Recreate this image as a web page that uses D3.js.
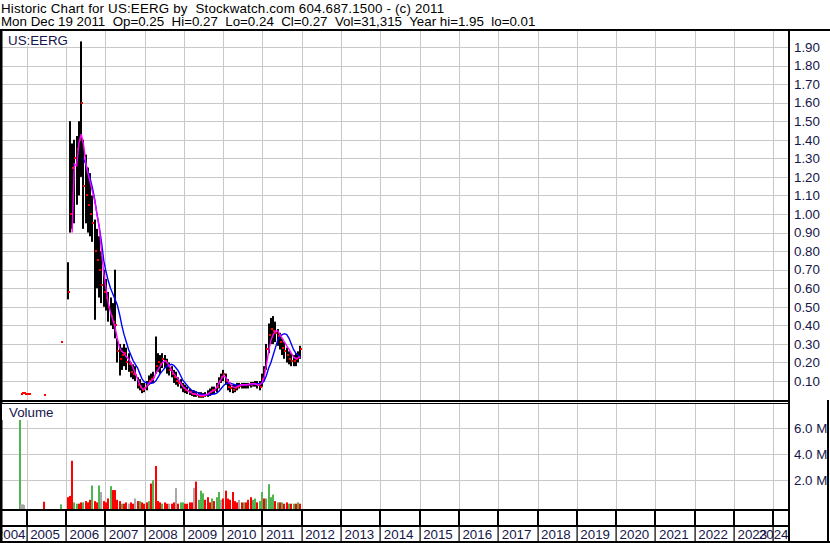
<!DOCTYPE html>
<html><head><meta charset="utf-8">
<script src="https://cdn.jsdelivr.net/npm/d3@7"></script>
<style>
html,body{margin:0;padding:0;background:#fff;}
svg{display:block;font-family:"Liberation Sans",Arial,sans-serif;}
</style></head><body>
<svg id="chart" width="830" height="543"></svg>
<script>
// ---------------- DATA ----------------
const headerLine1 = "Historic Chart for US:EERG by  Stockwatch.com 604.687.1500 - (c) 2011";
const headerLine2 = "Mon Dec 19 2011  Op=0.25  Hi=0.27  Lo=0.24  Cl=0.27  Vol=31,315  Year hi=1.95  lo=0.01";
const symbolLabel = "US:EERG";
const volumeLabel = "Volume";

const yearTicks = [2004,2005,2006,2007,2008,2009,2010,2011,2012,2013,2014,2015,2016,2017,2018,2019,2020,2021,2022,2023,2024];
const priceTicks = [0.10,0.20,0.30,0.40,0.50,0.60,0.70,0.80,0.90,1.00,1.10,1.20,1.30,1.40,1.50,1.60,1.70,1.80,1.90];
const volumeTicks = [2,4,6]; // millions

// sparse early trades (before 2006)
const earlyDates = ["2004-11-05","2004-11-20","2004-12-05","2004-12-20","2005-01-05","2005-01-20","2005-06-13","2005-11-14"];
const earlyClose = [0.03,0.035,0.035,0.03,0.03,0.03,0.025,0.31];
const earlyVolDates = ["2004-10-30","2004-11-12","2004-11-26","2004-12-10","2005-06-13","2005-11-14"];
const earlyVol = [7.0,0.15,0.15,0.1,0.35,0.15];
const earlyVolDir = ["g","n","n","n","r","g"];

// main series: one bar every 3 weeks starting 2006-01-16
const firstBarDate = "2006-01-16";
const barStepDays = 21;
const barHigh = [
 0.74,1.50,1.38,1.40,1.42,1.50,1.93,1.40,1.32,1.25,
 1.22,1.10,0.97,0.92,0.88,0.80,0.70,0.65,0.58,0.55,
 0.52,0.70,0.33,0.30,0.28,0.30,0.28,0.25,0.20,0.19,
 0.18,0.12,0.11,0.09,0.09,0.10,0.13,0.14,0.15,0.34,
 0.25,0.24,0.25,0.24,0.22,0.20,0.18,0.16,0.15,0.12,
 0.11,0.09,0.08,0.07,0.06,0.05,0.05,0.045,0.04,0.04,
 0.035,0.04,0.05,0.06,0.07,0.07,0.09,0.12,0.14,0.16,
 0.14,0.11,0.09,0.08,0.08,0.09,0.09,0.09,0.09,0.09,
 0.09,0.095,0.095,0.10,0.10,0.10,0.14,0.18,0.30,0.41,
 0.44,0.45,0.42,0.38,0.36,0.33,0.31,0.28,0.26,0.25,
 0.24,0.25,0.26,0.29];
const barLow = [
 0.54,0.90,0.92,0.95,1.05,1.10,1.20,0.92,0.95,0.90,
 0.88,0.85,0.43,0.60,0.55,0.52,0.50,0.48,0.42,0.40,
 0.38,0.33,0.20,0.13,0.16,0.18,0.16,0.15,0.12,0.11,
 0.10,0.06,0.05,0.035,0.04,0.05,0.08,0.09,0.09,0.14,
 0.15,0.14,0.17,0.17,0.14,0.13,0.12,0.09,0.08,0.07,
 0.06,0.04,0.035,0.03,0.025,0.02,0.015,0.015,0.01,0.01,
 0.01,0.015,0.015,0.02,0.03,0.03,0.04,0.06,0.09,0.10,
 0.08,0.05,0.04,0.035,0.04,0.05,0.06,0.06,0.06,0.06,
 0.06,0.065,0.07,0.07,0.06,0.05,0.07,0.10,0.16,0.25,
 0.30,0.30,0.31,0.29,0.27,0.24,0.22,0.20,0.19,0.18,
 0.18,0.18,0.20,0.22];
const barClose = [
 0.58,1.00,1.25,1.30,1.35,1.40,1.60,1.15,1.10,1.05,
 1.00,0.95,0.80,0.75,0.70,0.62,0.58,0.55,0.50,0.45,
 0.42,0.40,0.26,0.22,0.24,0.25,0.20,0.19,0.15,0.14,
 0.13,0.08,0.07,0.05,0.06,0.08,0.10,0.11,0.12,0.18,
 0.20,0.19,0.22,0.21,0.18,0.16,0.14,0.12,0.10,0.09,
 0.08,0.06,0.05,0.045,0.04,0.03,0.03,0.025,0.02,0.02,
 0.02,0.025,0.03,0.04,0.05,0.05,0.07,0.10,0.12,0.14,
 0.10,0.07,0.06,0.05,0.06,0.07,0.075,0.08,0.08,0.08,
 0.08,0.08,0.085,0.085,0.08,0.07,0.11,0.16,0.27,0.35,
 0.38,0.37,0.36,0.34,0.31,0.28,0.26,0.24,0.22,0.21,
 0.21,0.22,0.23,0.27];
const maFast = [
 null,null,0.90,1.27,1.26,1.38,1.43,1.38,1.28,1.22,
 1.17,1.12,1.07,1.00,0.93,0.80,0.68,0.60,0.52,0.47,
 0.43,0.39,0.33,0.28,0.26,0.25,0.23,0.22,0.20,0.17,
 0.14,0.11,0.08,0.06,0.055,0.07,0.09,0.10,0.11,0.14,
 0.16,0.18,0.20,0.21,0.20,0.18,0.16,0.14,0.125,0.11,
 0.09,0.07,0.06,0.05,0.04,0.035,0.03,0.028,0.025,0.022,
 0.022,0.025,0.03,0.038,0.045,0.05,0.065,0.09,0.11,0.13,
 0.12,0.10,0.085,0.07,0.065,0.07,0.075,0.08,0.08,0.08,
 0.082,0.085,0.085,0.085,0.08,0.078,0.09,0.12,0.19,0.26,
 0.32,0.35,0.37,0.37,0.35,0.33,0.31,0.29,0.27,0.25,
 0.23,0.22,0.225,0.23];
const maSlow = [
 null,null,null,null,null,null,null,1.30,1.27,1.23,
 1.19,1.14,1.08,1.00,0.93,0.85,0.75,0.69,0.64,0.60,
 0.57,0.54,0.51,0.46,0.40,0.35,0.31,0.27,0.24,0.21,
 0.19,0.17,0.14,0.11,0.095,0.09,0.085,0.088,0.09,0.10,
 0.12,0.14,0.155,0.17,0.18,0.185,0.19,0.185,0.17,0.155,
 0.13,0.105,0.09,0.075,0.06,0.05,0.045,0.04,0.035,0.03,
 0.027,0.025,0.025,0.026,0.028,0.03,0.035,0.045,0.06,0.075,
 0.085,0.09,0.088,0.085,0.08,0.078,0.078,0.08,0.08,0.08,
 0.08,0.08,0.082,0.085,0.085,0.085,0.088,0.10,0.13,0.17,
 0.20,0.24,0.28,0.32,0.34,0.35,0.355,0.35,0.33,0.30,
 0.27,0.25,0.24,0.23];
const barVolume = [ // millions
 0.7,0.8,3.5,0.3,0.2,0.2,0.3,0.3,0.4,0.3,
 0.5,1.6,0.4,0.3,1.6,1.1,0.4,0.3,0.6,1.55,
 1.25,1.25,0.5,0.4,0.2,0.2,0.3,0.2,0.3,0.2,
 0.6,0.4,0.4,0.3,0.2,0.3,0.4,1.75,2.0,3.1,
 0.4,0.3,0.2,0.3,0.2,0.2,0.2,0.3,1.4,0.2,
 0.3,0.3,0.2,0.2,0.3,0.3,1.4,1.9,0.5,1.2,
 1.0,0.5,0.7,0.3,0.6,0.4,0.7,1.1,0.5,0.6,
 1.2,0.6,0.5,1.1,0.4,0.3,0.5,0.3,0.3,0.3,
 0.5,0.7,0.5,0.6,0.3,0.4,1.1,0.6,0.6,1.7,
 0.7,0.9,0.4,0.3,0.3,0.3,0.2,0.3,0.2,0.2,
 0.2,0.2,0.3,0.2];
const barVolumeDir = [
 "r","r","r","g","g","r","r","g","r","r",
 "r","g","r","r","g","n","r","r","r","g",
 "r","r","r","r","g","r","r","n","r","r",
 "n","r","g","r","r","r","g","r","g","r",
 "r","r","g","r","r","n","r","r","n","r",
 "g","g","r","r","r","r","n","r","g","g",
 "g","r","r","r","g","r","g","g","n","r",
 "r","r","r","r","r","r","n","r","g","r",
 "r","r","g","g","r","g","g","r","g","g",
 "g","g","r","g","r","g","r","r","g","r",
 "g","r","g","r"];

// ---------------- LAYOUT ----------------
const svg = d3.select("#chart");
const parse = d3.timeParse("%Y-%m-%d");
const FONT = "13.33px";
const LABEL_COLOR = "#16164a";
const GRID = "#c8c8c8";
const volColor = {r:"#ff0000", g:"#50b450", n:"#a8a8a8"};

const x = d3.scaleTime().domain([new Date(2005,0,1), new Date(2024,0,1)]).range([26.7, 773.3]);
const yP = d3.scaleLinear().domain([0,2]).range([399.6, 28.4]);
const yV = d3.scaleLinear().domain([0,6]).range([506.3, 428.3]);
const px = v => Math.round(v) + 0.5;

svg.append("rect").attr("width",830).attr("height",543).attr("fill","#fff");

const start = parse(firstBarDate);
const bars = barHigh.map((h,i)=>({
  date: d3.timeDay.offset(start, i*barStepDays),
  hi: h, lo: barLow[i], cl: barClose[i], fast: maFast[i], slow: maSlow[i],
  vol: barVolume[i], dir: barVolumeDir[i]
}));
const early = earlyDates.map((d,i)=>({date: parse(d), cl: earlyClose[i]}));
const earlyV = earlyVolDates.map((d,i)=>({date: parse(d), vol: earlyVol[i], dir: earlyVolDir[i]}));
const yearDates = yearTicks.map(y => new Date(y,0,1));

const defs = svg.append("defs");
defs.append("clipPath").attr("id","cpPrice").append("rect").attr("x",2).attr("y",31).attr("width",786).attr("height",369);
defs.append("clipPath").attr("id","cpVol").append("rect").attr("x",2).attr("y",404).attr("width",786).attr("height",105);

// ---- grid ----
const grid = svg.append("g");
grid.selectAll(".hp").data(priceTicks).join("line")
  .attr("x1",2).attr("x2",788).attr("y1",d=>px(yP(d))).attr("y2",d=>px(yP(d)))
  .attr("stroke",GRID).attr("stroke-width",1);
grid.selectAll(".hv").data(volumeTicks).join("line").attr("class","hv")
  .attr("x1",2).attr("x2",788).attr("y1",d=>px(yV(d))).attr("y2",d=>px(yV(d)))
  .attr("stroke",GRID).attr("stroke-width",1);
grid.selectAll(".vp").data(yearDates.filter(d=>x(d)>2)).join("line").attr("class","vp")
  .attr("x1",d=>px(x(d))).attr("x2",d=>px(x(d))).attr("y1",31).attr("y2",400)
  .attr("stroke",GRID);
grid.selectAll(".vv").data(yearDates.filter(d=>x(d)>2)).join("line").attr("class","vv")
  .attr("x1",d=>px(x(d))).attr("x2",d=>px(x(d))).attr("y1",404).attr("y2",509)
  .attr("stroke",GRID);

// ---- volume bars ----
const gv = svg.append("g").attr("clip-path","url(#cpVol)");
gv.selectAll("rect.v").data(earlyV.concat(bars)).join("rect").attr("class","v")
  .attr("x",d=>Math.round(x(d.date))-1).attr("width",2)
  .attr("y",d=>yV(d.vol)).attr("height",d=>509-yV(d.vol))
  .attr("fill",d=>volColor[d.dir]);

// ---- price bars ----
const gp = svg.append("g").attr("clip-path","url(#cpPrice)");
gp.selectAll("rect.b").data(bars).join("rect").attr("class","b")
  .attr("x",d=>Math.round(x(d.date))-1).attr("width",2)
  .attr("y",d=>yP(d.hi)).attr("height",d=>Math.max(1,yP(d.lo)-yP(d.hi)))
  .attr("fill","#000");
gp.selectAll("rect.c").data(bars.concat(early)).join("rect").attr("class","c")
  .attr("x",d=>Math.round(x(d.date))).attr("width",2)
  .attr("y",d=>Math.round(yP(d.cl))-1).attr("height",2)
  .attr("fill","#ff0000");

const lineSlow = d3.line().defined(d=>d.slow!=null).x(d=>x(d.date)).y(d=>yP(d.slow));
const lineFast = d3.line().defined(d=>d.fast!=null).x(d=>x(d.date)).y(d=>yP(d.fast));
gp.append("path").datum(bars).attr("d",lineSlow).attr("fill","none").attr("stroke","#0000ff").attr("stroke-width",1.4);
gp.append("path").datum(bars).attr("d",lineFast).attr("fill","none").attr("stroke","#ff00ff").attr("stroke-width",1.4);

// ---- header ----
svg.append("text").attr("x",1).attr("y",12.5).style("white-space","pre").style("letter-spacing","0.18px")
  .attr("font-size",FONT).attr("fill","#000").text(headerLine1);
svg.append("text").attr("x",1).attr("y",26).style("white-space","pre").attr("font-size",FONT).attr("fill","#000").text(headerLine2);

// ---- panel labels with white boxes ----
function boxedLabel(tx, ty, txt, boxTop, boxBottom){
  const r = svg.append("rect").attr("fill","#fff");
  const t = svg.append("text").attr("x",tx).attr("y",ty).attr("font-size",FONT).attr("fill",LABEL_COLOR).text(txt);
  const w = t.node().getComputedTextLength();
  r.attr("x",2).attr("y",boxTop).attr("width",tx+w+2-2).attr("height",boxBottom-boxTop);
}
boxedLabel(8, 45, symbolLabel, 31, 46);

// ---- axes ----
const axP = svg.append("g").attr("transform","translate(794,0)")
  .call(d3.axisRight(yP).tickValues(priceTicks).tickFormat(d3.format(".2f")).tickSize(0).tickPadding(0));
const axV = svg.append("g").attr("transform","translate(794,0)")
  .call(d3.axisRight(yV).tickValues(volumeTicks).tickFormat(d=>d.toFixed(1)+" M").tickSize(0).tickPadding(0));
[axP,axV].forEach(a=>{
  a.select(".domain").remove();
  a.selectAll("text").attr("font-size",FONT).attr("font-family","Liberation Sans, Arial, sans-serif").attr("fill",LABEL_COLOR);
});

// strip separators (year boundaries)
const strip = svg.append("g");
strip.selectAll(".s1").data(yearDates).join("rect").attr("class","s1")
  .attr("x",d=>Math.round(x(d))-1).attr("width",2).attr("y",511).attr("height",15).attr("fill","#000");
strip.selectAll(".s2").data(yearDates).join("rect").attr("class","s2")
  .attr("x",d=>Math.round(x(d))-0.5).attr("width",1.2).attr("y",527).attr("height",14).attr("fill","#000");

const axX = svg.append("g").attr("transform","translate(0,539)")
  .call(d3.axisBottom(x).tickValues(yearDates).tickFormat(d3.timeFormat("%Y")).tickSize(0).tickPadding(0));
axX.select(".domain").remove();
axX.selectAll("text").attr("font-size",FONT).attr("font-family","Liberation Sans, Arial, sans-serif")
  .attr("fill",LABEL_COLOR).attr("text-anchor","start").attr("y",0).attr("dy",0).attr("x",3);
// first label sits just left of the 2005 boundary, last one is pulled inside the axis line
axX.selectAll(".tick").filter(d=>d.getFullYear()===2004).select("text").each(function(){
  const w = this.getComputedTextLength();
  d3.select(this).attr("x", 25 - x(new Date(2004,0,1)) - w);
});
axX.selectAll(".tick").filter(d=>d.getFullYear()===2024).select("text").each(function(){
  const w = this.getComputedTextLength();
  d3.select(this).attr("x", 788 - x(new Date(2024,0,1)) - w);
});

// ---- frame lines ----
const frame = svg.append("g").attr("fill","#000");
frame.append("rect").attr("x",0).attr("y",29).attr("width",830).attr("height",2);   // top
frame.append("rect").attr("x",0).attr("y",29).attr("width",2.5).attr("height",514); // left
frame.append("rect").attr("x",788).attr("y",29).attr("width",2).attr("height",514); // axis
frame.append("rect").attr("x",0).attr("y",400).attr("width",790).attr("height",2);  // divider
frame.append("rect").attr("x",0).attr("y",403).attr("width",790).attr("height",1);
frame.append("rect").attr("x",0).attr("y",509).attr("width",790).attr("height",2);  // vol bottom
frame.append("rect").attr("x",0).attr("y",525).attr("width",790).attr("height",2);  // strip
frame.append("rect").attr("x",0).attr("y",541).attr("width",830).attr("height",2);  // bottom
frame.append("rect").attr("x",827).attr("y",400).attr("width",2).attr("height",143); // right lower

boxedLabel(9, 417, volumeLabel, 404, 420);
</script>
</body></html>
